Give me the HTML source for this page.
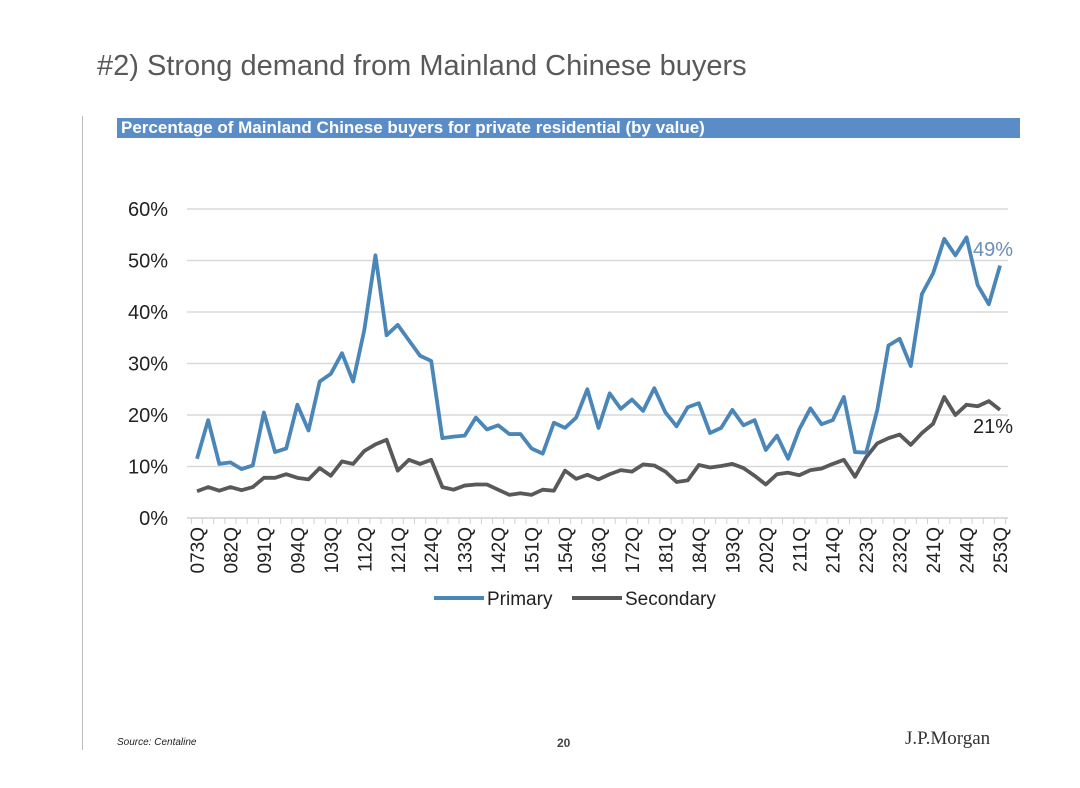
<!DOCTYPE html>
<html><head><meta charset="utf-8"><style>
body{margin:0;width:1080px;height:788px;background:#fff;overflow:hidden;font-family:"Liberation Sans",sans-serif;position:relative}
.abs{position:absolute}
</style></head><body>
<div class="abs" style="left:97px;top:50px;font-size:29px;color:#595959;">#2) Strong demand from Mainland Chinese buyers</div>
<div class="abs" style="left:82px;top:116px;width:1px;height:634px;background:#bbb"></div>
<div class="abs" style="left:117px;top:118px;width:903px;height:20px;background:#5a8dc8;color:#fff;font-weight:bold;font-size:17px;line-height:20px;padding-left:4px;box-sizing:border-box;white-space:nowrap">Percentage of Mainland Chinese buyers for private residential (by value)</div>
<svg class="abs" style="left:0;top:0" width="1080" height="788">
<g id="grid"></g><g id="xax"></g><g id="lines"></g>
</svg>
<div class="abs" style="left:117px;top:737px;font-size:10px;font-style:italic;color:#222">Source: Centaline</div>
<div class="abs" style="left:557px;top:736px;font-size:12px;font-weight:bold;color:#444">20</div>
<div class="abs" style="left:905px;top:728px;font-size:19px;font-family:'Liberation Serif',serif;color:#333">J.P.Morgan</div>
<script>
const categories=["073Q"];
(function(){let y=2007,q=3;for(let i=1;i<73;i++){q++;if(q>4){q=1;y++;}categories.push(String(y%100).padStart(2,'0')+q+"Q");}})();
const primary=[11.5,19,10.5,10.8,9.5,10.2,20.5,12.8,13.5,22,17,26.5,28,32,26.5,36.5,51,35.5,37.5,34.5,31.5,30.5,15.5,15.8,16,19.5,17.2,18,16.3,16.3,13.5,12.5,18.5,17.5,19.5,25,17.5,24.2,21.2,23,20.8,25.2,20.5,17.8,21.5,22.3,16.5,17.5,21,18,19,13.2,16,11.5,17.2,21.3,18.2,19,23.5,12.8,12.7,21,33.5,34.8,29.5,43.5,47.5,54.2,51,54.5,45.2,41.5,49];
const secondary=[5.2,6,5.3,6,5.4,6,7.8,7.8,8.5,7.8,7.5,9.7,8.2,11,10.5,13,14.3,15.2,9.2,11.3,10.5,11.3,6,5.5,6.3,6.5,6.5,5.5,4.5,4.8,4.5,5.5,5.3,9.2,7.6,8.4,7.5,8.5,9.3,9,10.4,10.2,9,7,7.3,10.3,9.8,10.1,10.5,9.7,8.2,6.5,8.5,8.8,8.3,9.3,9.6,10.5,11.3,8,11.8,14.5,15.5,16.2,14.2,16.5,18.3,23.5,20,22,21.7,22.7,21];
const yTicks=[0,10,20,30,40,50,60];
const NS="http://www.w3.org/2000/svg";
const x0=197,x1=1000,yb=518,yt=209;
const xs=i=>x0+(x1-x0)*i/(categories.length-1);
const ys=v=>yb-(yb-yt)*v/60;
function mk(t,a,p){const e=document.createElementNS(NS,t);for(const k in a)e.setAttribute(k,a[k]);p.appendChild(e);return e;}
const grid=document.getElementById('grid'),xax=document.getElementById('xax'),lines=document.getElementById('lines');
yTicks.forEach(v=>{
 if(v>0){const l=mk('line',{x1:187,x2:1008,y1:ys(v),y2:ys(v),stroke:'#d9d9d9','stroke-width':1.5},grid);
 
 }
 const t=mk('text',{x:168,y:ys(v)+7,'text-anchor':'end','font-size':20,fill:'#222'},grid);
 t.textContent=v+'%';
 
 
});
const ax=mk('line',{x1:187,x2:1008,y1:yb,y2:yb,stroke:'#d0d0d0','stroke-width':1.5},xax);


const step=(x1-x0)/(categories.length-1);
for(let i=0;i<=categories.length;i++){const x=x0-step/2+i*step;
 mk('line',{x1:x,x2:x,y1:yb,y2:yb+6,stroke:'#d0d0d0','stroke-width':1},xax);}
categories.forEach((c,i)=>{if(i%3)return;
 const t=mk('text',{x:0,y:0,'text-anchor':'end','font-size':19,fill:'#222',transform:`translate(${xs(i)+7},527) rotate(-90)`},xax);
 t.textContent=c;
 
 
});
function series(d,col,name){
 const p=mk('polyline',{points:d.map((v,i)=>xs(i)+','+ys(v)).join(' '),fill:'none',stroke:col,'stroke-width':3.8,'stroke-linejoin':'round'},lines);
 
 
}
series(secondary,'#595959','secondary-line');
series(primary,'#4a86b8','primary-line');
const lp=mk('text',{x:973,y:256,'font-size':20,fill:'#6a8fb8'},lines);
lp.textContent=Math.round(primary[primary.length-1])+'%';


const ls=mk('text',{x:973,y:433,'font-size':20,fill:'#222'},lines);
ls.textContent=Math.round(secondary[secondary.length-1])+'%';


[[434,'#4a86b8','Primary'],[572,'#595959','Secondary']].forEach(([x,c,n])=>{
 const g=mk('g',{},lines);
 
 
 mk('line',{x1:x,x2:x+50,y1:598,y2:598,stroke:c,'stroke-width':4},g);
 const t=mk('text',{x:x+53,y:605,'font-size':19,fill:'#222'},g);t.textContent=n;
});
</script>
</body></html>
